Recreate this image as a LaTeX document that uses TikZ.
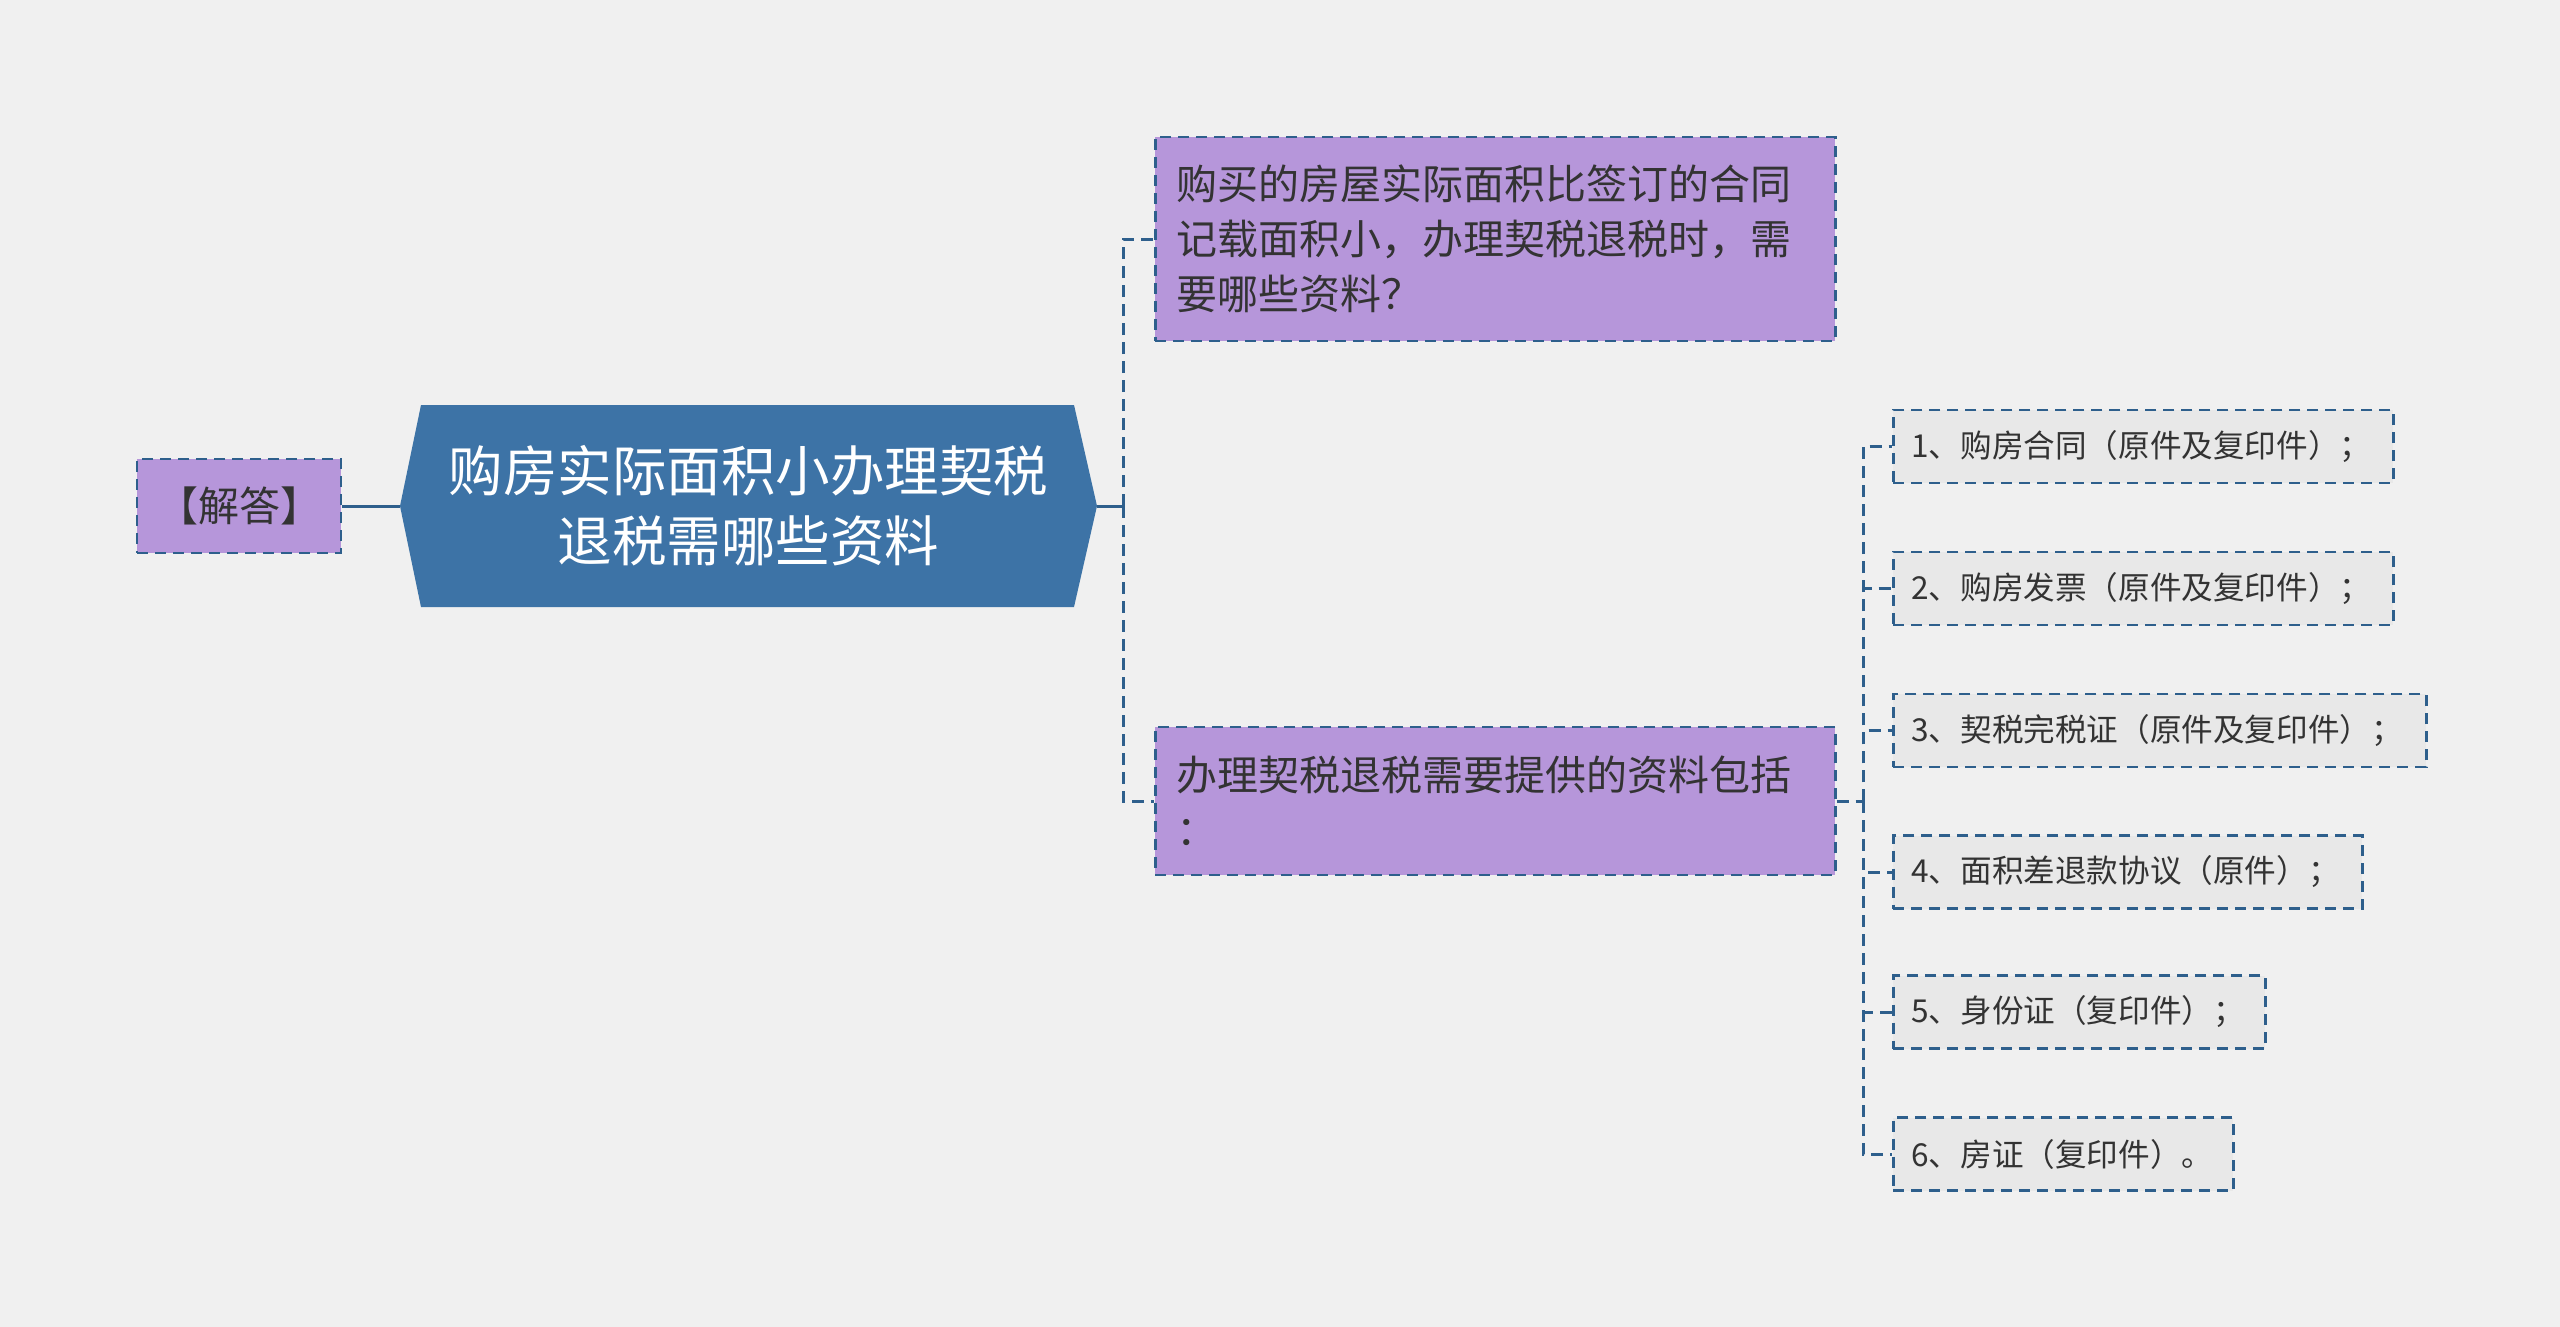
\documentclass[tikz,border=0pt]{standalone}
\usepackage{fontspec}
\setmainfont{Noto Sans CJK SC}
\usetikzlibrary{calc}
\definecolor{bg}{RGB}{240,240,240}
\definecolor{hexblue}{RGB}{61,115,166}
\definecolor{purp}{RGB}{182,150,218}
\definecolor{edgeblue}{RGB}{46,95,140}
\definecolor{itemfill}{RGB}{232,232,232}
\definecolor{txt}{RGB}{51,51,51}
\begin{document}
\begin{tikzpicture}[x=1pt,y=-1pt,
  dashedge/.style={draw=edgeblue, line width=2.6pt, dash pattern=on 11pt off 7pt},
  conn/.style={draw=edgeblue, line width=3pt, dash pattern=on 12pt off 7pt},
  solidconn/.style={draw=edgeblue, line width=3pt},
  purplebox/.style={dashedge, fill=purp, text=txt, anchor=west, inner xsep=21pt, inner ysep=0pt,
     align=left, font=\fontsize{41pt}{55pt}\selectfont},
  itembox/.style={dashedge, fill=itemfill, text=txt, anchor=west, inner xsep=18pt, inner ysep=0pt,
     minimum height=73pt, align=left, text width=#1, font=\fontsize{31.6pt}{40pt}\selectfont},
  centertext/.style={text=white, align=center, font=\fontsize{54.5pt}{70pt}\selectfont}
]
\fill[bg] (0,0) rectangle (2560,1327);
\useasboundingbox (0,0) rectangle (2560,1327);

% central hexagon
\coordinate (hexL) at (400,506);
\coordinate (hexR) at (1097,506);
\fill[hexblue] (hexL) -- (421,405) -- (1074,405) -- (hexR) -- (1074,607) -- (421,607) -- cycle;
\node[centertext] (hex) at (748.5,506) {购房实际面积小办理契税\\退税需哪些资料};

% left box
\node[dashedge, fill=purp, text=txt, minimum width=204pt, minimum height=94pt, inner sep=0pt,
      font=\fontsize{41pt}{50pt}\selectfont] (jd) at (239,506) {【解答】};

% right boxes
\node[purplebox, text width=638pt, minimum height=204pt] (q) at (1154,239)
  {购买的房屋实际面积比签订的合同\\记载面积小，办理契税退税时，需\\要哪些资料？};
\node[purplebox, text width=638pt, minimum height=148pt] (a) at (1154,801)
  {办理契税退税需要提供的资料包括\\：};

% items
\node[itembox=464pt] (i1) at (1892,446.5) {1、购房合同（原件及复印件）；};
\node[itembox=464pt] (i2) at (1892,588.5) {2、购房发票（原件及复印件）；};
\node[itembox=497pt] (i3) at (1892,730.5) {3、契税完税证（原件及复印件）；};
\node[itembox=433pt] (i4) at (1892,872) {4、面积差退款协议（原件）；};
\node[itembox=336pt] (i5) at (1892,1012) {5、身份证（复印件）；};
\node[itembox=304pt] (i6) at (1892,1154) {6、房证（复印件）。};

% connectors
\draw[solidconn] (jd.east) -- (hexL);
\coordinate (b1) at (1123,506);
\draw[solidconn] (hexR) -- (b1);
\draw[conn] (b1) |- (q.west);
\draw[conn] (b1) |- (a.west);

\coordinate (b2) at (1863,801);
\draw[conn] (a.east) -- (b2);
\foreach \i in {1,...,6}{
  \draw[conn] (b2) |- (i\i.west);
}
\end{tikzpicture}
\end{document}
